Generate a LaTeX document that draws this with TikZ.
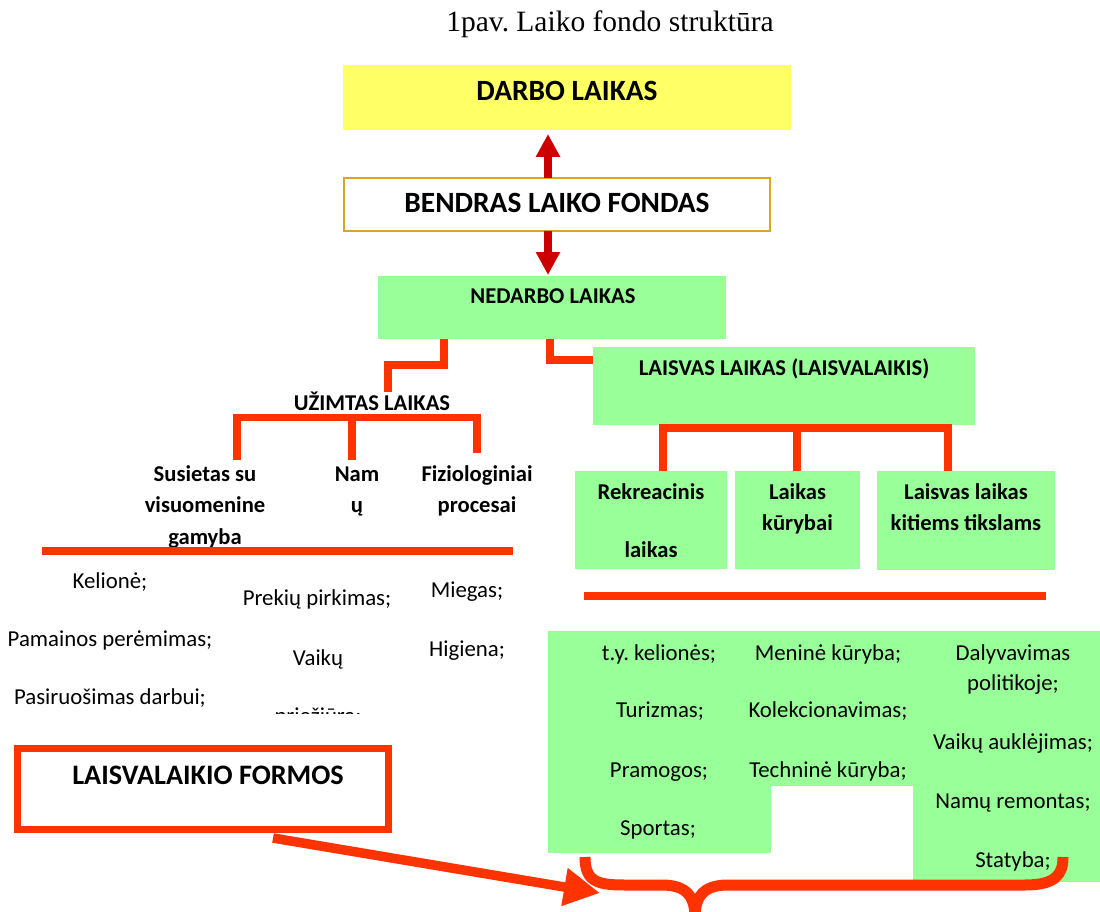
\documentclass[tikz,border=0pt]{standalone}
\usepackage{fontspec}
\setmainfont{Carlito}
\newfontfamily\titlefont{Liberation Serif}
\usetikzlibrary{arrows.meta}
\definecolor{ylw}{HTML}{FFFF66}
\definecolor{grn}{HTML}{99FF99}
\definecolor{orr}{HTML}{FF3300}
\definecolor{dred}{HTML}{CC0000}
\definecolor{gold}{HTML}{DAA520}
\frenchspacing
\begin{document}
\begin{tikzpicture}[x=1pt,y=-1pt,
  rbox/.style={rectangle,inner sep=0pt,outer sep=0pt},
  ybox/.style={rbox,fill=ylw},
  gbox/.style={rbox,fill=grn},
  txt/.style={anchor=base,inner sep=0pt,font=\fontsize{22.8pt}{27pt}\selectfont},
  btxt/.style={anchor=base,inner sep=0pt,font=\fontsize{22.6pt}{27pt}\selectfont\bfseries},
  bigtxt/.style={anchor=base,inner sep=0pt,font=\fontsize{29.4pt}{33pt}\selectfont\bfseries},
  conn/.style={draw=orr,line width=7.5pt},
  rarrow/.style={draw=dred,line width=8pt,-{Triangle[width=23pt,length=23pt]}},
  bigarrow/.style={draw=orr,line width=9.5pt,-{Triangle[width=36pt,length=36pt]}},
  brace/.style={draw=orr,line width=11pt}]
\clip (0,0) rectangle (1100,912);
% title
\node[anchor=base,inner sep=0pt,font=\titlefont\fontsize{29.5pt}{33pt}\selectfont] (title) at (610,32) {1pav. Laiko fondo struktūra};
% top boxes
\node[ybox,minimum width=448pt,minimum height=65pt] (darbo) at (567,97.5) {};
\node[bigtxt] (darbot) at (567,101) {DARBO LAIKAS};
\node[rbox,draw=gold,line width=2.5pt,fill=white,minimum width=426pt,minimum height=53pt] (bendras) at (557,204.5) {};
\node[bigtxt] (bendrast) at (557,213) {BENDRAS LAIKO FONDAS};
\node[gbox,minimum width=348pt,minimum height=63pt] (ned) at (552,307.5) {};
\node[btxt] (nedt) at (553,303) {NEDARBO LAIKAS};
\coordinate (bUp) at (548,178);
\coordinate (dTip) at (548,134);
\coordinate (bDn) at (548,231);
\coordinate (nTip) at (548,275);
\draw[rarrow] (bUp) -- (dTip);
\draw[rarrow] (bDn) -- (nTip);
% LAISVAS box
\node[gbox,minimum width=382pt,minimum height=78pt] (laisv) at (784,385.5) {};
\node[btxt] (laisvt) at (784,375) {LAISVAS LAIKAS (LAISVALAIKIS)};
% UZIMTAS
\node[btxt] (uzim) at (372,410) {UŽIMTAS LAIKAS};
% connectors from NEDARBO
\coordinate (n1) at (444,339);
\coordinate (u1) at (388,392);
\draw[conn] (n1) -- (444,365) -- (388,365) -- (u1);
\coordinate (n2) at (550,339);
\draw[conn] (n2) -- (550,360) -- (laisv.west |- 0,360);
% bracket under UZIMTAS
\coordinate (ua) at (237,460);
\coordinate (ub) at (352,460);
\coordinate (uc) at (477,453);
\draw[conn] (ua) -- (237,417.5) -- (477,417.5) -- (uc);
\draw[conn] (352,417.5) -- (ub);
% subheads
\node[btxt] (sus1) at (205,481) {Susietas su};
\node[btxt] (sus2) at (205,512.5) {visuomenine};
\node[btxt] (sus3) at (205,544) {gamyba};
\node[btxt] (nam1) at (357,481) {Nam};
\node[btxt] (nam2) at (357,512.5) {ų};
\node[btxt] (fiz1) at (477,481) {Fiziologiniai};
\node[btxt] (fiz2) at (477,512.5) {procesai};
\coordinate (la) at (42,551);
\coordinate (lb) at (513,551);
\draw[conn,line width=8pt] (la) -- (lb);
% left lists
\node[txt] (k1) at (110,588) {Kelionė;};
\node[txt] (k2) at (110,646) {Pamainos perėmimas;};
\node[txt] (k3) at (110,704) {Pasiruošimas darbui;};
\node[txt] (p1) at (317,605) {Prekių pirkimas;};
\node[txt] (p2) at (318,665) {Vaikų};
\begin{scope}
\clip (250,690) rectangle (400,713.5);
\node[txt] (p3) at (318,723) {priežiūra;};
\end{scope}
\node[txt] (m1) at (467,597) {Miegas;};
\node[txt] (m2) at (467,656) {Higiena;};
% bracket under LAISVAS
\node[gbox,minimum width=152pt,minimum height=98pt] (rek) at (651,520) {};
\node[gbox,minimum width=125pt,minimum height=98pt] (kur) at (797.5,520) {};
\node[gbox,minimum width=178pt,minimum height=99pt] (kit) at (966,520.5) {};
\draw[conn] (rek.north -| 663,0) -- (663,428) -- (948,428) -- (kit.north -| 948,0);
\draw[conn] (797,428) -- (kur.north -| 797,0);
\node[btxt] (rek1) at (651,499) {Rekreacinis};
\node[btxt] (rek2) at (651,557) {laikas};
\node[btxt] (kur1) at (797.5,499) {Laikas};
\node[btxt] (kur2) at (797.5,530) {kūrybai};
\node[btxt] (kit1) at (966,499) {Laisvas laikas};
\node[btxt] (kit2) at (966,530) {kitiems tikslams};
\coordinate (ra) at (584,596);
\coordinate (rb) at (1046,596);
\draw[conn,line width=8pt] (ra) -- (rb);
% green lists
\node[gbox,minimum width=223pt,minimum height=222pt] (col1) at (659.5,742) {};
\node[gbox,minimum width=142pt,minimum height=155pt] (col2) at (842,708.5) {};
\node[gbox,minimum width=187pt,minimum height=251pt] (col3) at (1006.5,756.5) {};
\node[txt] (c11) at (659,660) {t.y. kelionės;};
\node[txt] (c12) at (660,717) {Turizmas;};
\node[txt] (c13) at (659,777) {Pramogos;};
\node[txt] (c14) at (658,835) {Sportas;};
\node[txt] (c21) at (828,660) {Meninė kūryba;};
\node[txt] (c22) at (828,717) {Kolekcionavimas;};
\node[txt] (c23) at (828,777) {Techninė kūryba;};
\node[txt] (c31) at (1013,660) {Dalyvavimas};
\node[txt] (c32) at (1013,690) {politikoje;};
\node[txt] (c33) at (1013,749) {Vaikų auklėjimas;};
\node[txt] (c34) at (1013,808) {Namų remontas;};
\node[txt] (c35) at (1013,867) {Statyba;};
% formos box
\node[rbox,draw=orr,line width=7pt,fill=white,minimum width=371pt,minimum height=81pt] (formos) at (203,789) {};
\node[bigtxt,font=\fontsize{28.2pt}{33pt}\selectfont\bfseries] (formost) at (208,784) {LAISVALAIKIO FORMOS};
% big arrow
\coordinate (aS) at (273,838);
\coordinate (aT) at (600,893);
\draw[bigarrow] (aS) -- (aT);
% brace
\coordinate (brL) at (585,857);
\coordinate (brM) at (695,918);
\coordinate (brR) at (1063,857);
\draw[brace] (brL) .. controls (585,882) and (598,885) .. (625,885) -- (662,885) .. controls (688,885) and (695,898) .. (brM);
\draw[brace] (brM) .. controls (695,898) and (702,885) .. (728,885) -- (1025,885) .. controls (1055,885) and (1063,875) .. (brR);
\end{tikzpicture}
\end{document}
